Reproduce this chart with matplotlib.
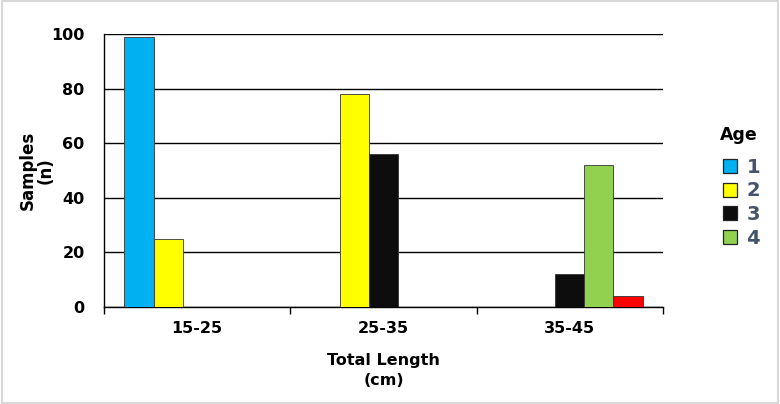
import matplotlib
matplotlib.use("Agg")
from matplotlib import pyplot as plt
from matplotlib.lines import Line2D
from matplotlib.patches import Rectangle
import numpy as np

categories = ['15-25', '25-35', '35-45']
ages = ['1', '2', '3', '4', '5']
# samples per age class in each length group
age1 = [99, 0, 0]
age2 = [25, 78, 0]
age3 = [0, 56, 12]
age4 = [0, 0, 52]
age5 = [0, 0, 4]
series = [age1, age2, age3, age4, age5]
colors = ['#00B0F0', '#FFFF00', '#0D0D0D', '#92D050', '#FF0000']
yticks = [0, 20, 40, 60, 80, 100]

fig = plt.figure(figsize=(7.8, 4.04), dpi=100)
ax = fig.add_axes([0.1333, 0.240, 0.7167, 0.6758])

x = np.arange(len(categories))
w = 0.78 / len(series)
for i, vals in enumerate(series):
    pos = x - 0.39 + w * (i + 0.5)
    v = np.array(vals, dtype=float)
    m = v > 0
    ax.bar(pos[m], v[m], width=w, color=colors[i], edgecolor='#333333',
           linewidth=0.6, zorder=3)

ax.set_xlim(-0.5, len(categories) - 0.5)
ax.set_ylim(0, 100)
ax.set_yticks(yticks)
ax.yaxis.grid(True, color='black', linewidth=1.0, zorder=0)
ax.set_axisbelow(True)
ax.tick_params(axis='y', length=0, pad=14, labelsize=11.5)
for lab in ax.get_yticklabels():
    lab.set_fontweight('bold')

ax.set_xticks(x)
ax.set_xticklabels(categories, fontsize=11.5, fontweight='bold')
ax.set_xticks(np.arange(len(categories) + 1) - 0.5, minor=True)
ax.tick_params(axis='x', which='major', length=0, pad=10)
ax.tick_params(axis='x', which='minor', length=5, width=1.0, direction='out')

for s in ['top', 'right']:
    ax.spines[s].set_visible(False)
ax.spines['left'].set_linewidth(1.0)
ax.spines['bottom'].set_linewidth(1.0)

ax.set_xlabel('Total Length\n(cm)', fontsize=11.5, fontweight='bold', labelpad=12,
              linespacing=1.45)
ax.set_ylabel('Samples\n(n)', fontsize=12, fontweight='bold', va='center',
              linespacing=1.0)
ax.yaxis.set_label_coords(-0.12, 0.5)

handles = [Line2D([], [], marker='s', linestyle='none', markersize=10,
                  markerfacecolor=colors[i], markeredgecolor='#222222',
                  markeredgewidth=0.9) for i in range(4)]
leg = ax.legend(handles, ages[:4], title='Age', loc='center left',
                bbox_to_anchor=(1.085, 0.44), frameon=False, borderpad=0,
                prop={'size': 14, 'weight': 'bold'},
                title_fontproperties={'size': 12.5, 'weight': 'bold'},
                handletextpad=0.35, labelspacing=0.25, handlelength=1.0,
                alignment='left')
leg._legend_box.sep = 10
for t in leg.get_texts():
    t.set_color('#44546A')

fig.patches.append(Rectangle((0.002, 0.003), 0.996, 0.994, transform=fig.transFigure,
                             fill=False, edgecolor='#D9D9D9', linewidth=1.5))

fig.savefig('out.png', dpi=100)
